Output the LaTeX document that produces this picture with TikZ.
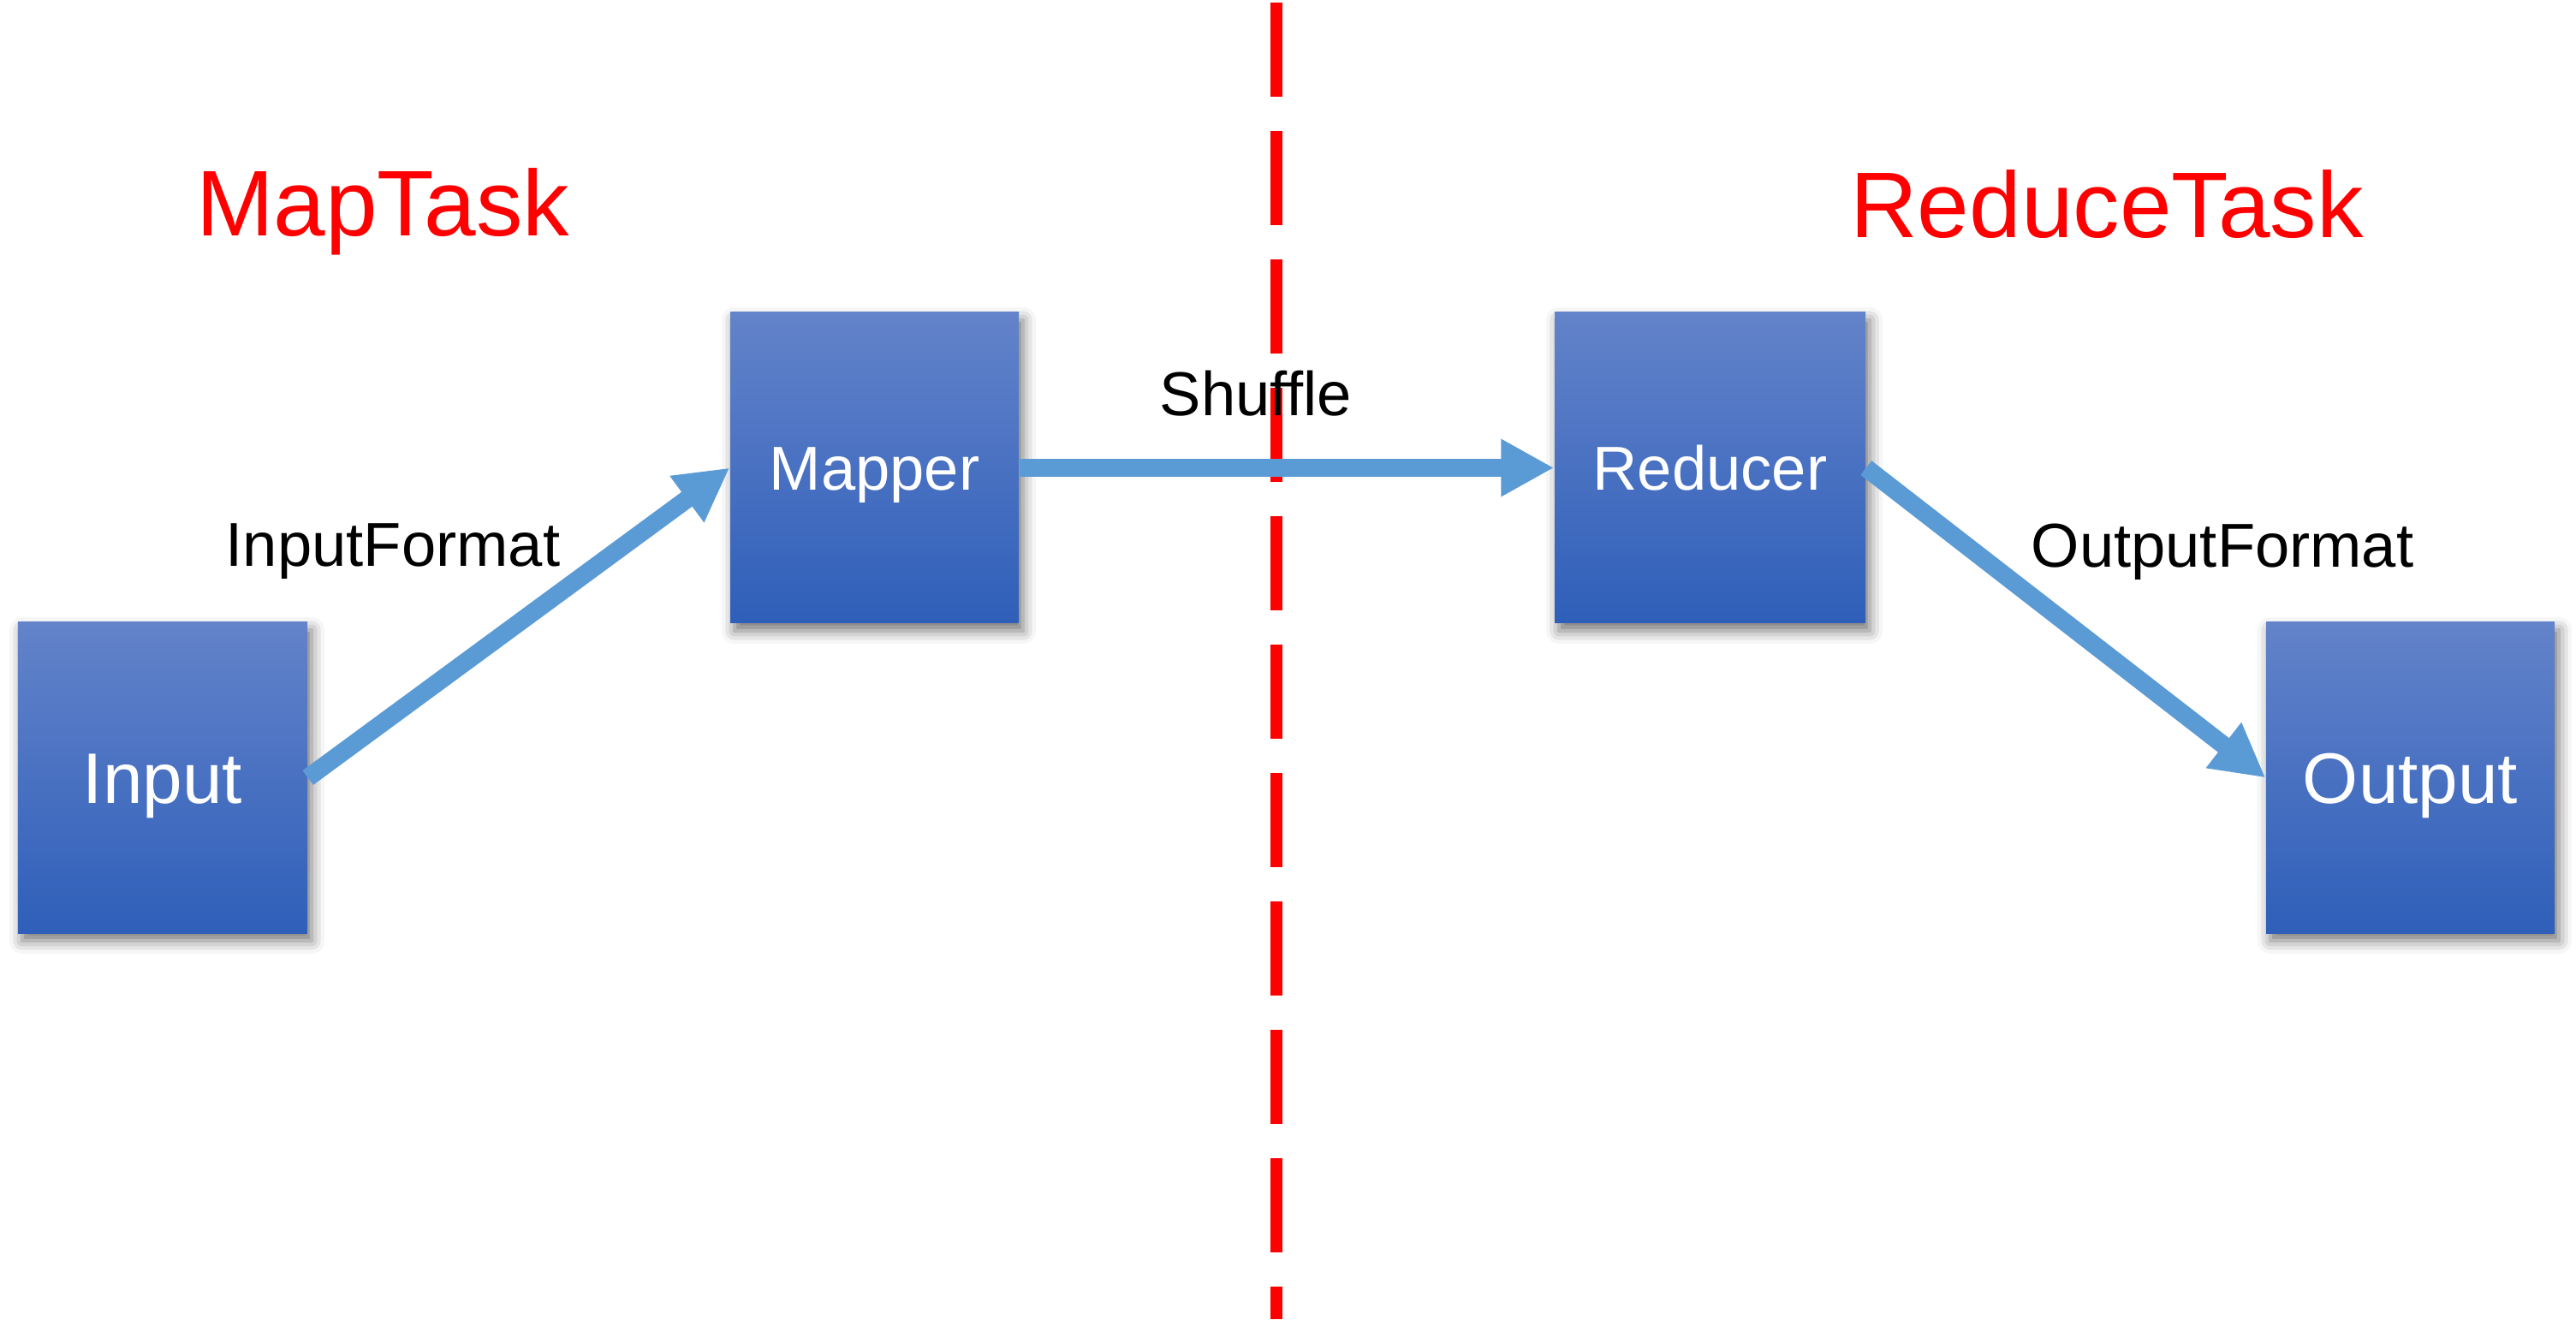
\documentclass[tikz,border=0pt]{standalone}
\usepackage{fontspec}
\setmainfont{Liberation Sans}
\usepackage{tikz}
\usetikzlibrary{arrows.meta,shadows.blur}

\definecolor{boxtop}{RGB}{99,131,202}
\definecolor{boxbot}{RGB}{47,95,185}
\definecolor{flowblue}{RGB}{91,155,213}

\begin{document}
\begin{tikzpicture}
    \tikzstyle{taskbox} = [rectangle, top color=boxtop, bottom color=boxbot, text=white, minimum height=3.63cm, text depth=0cm, inner sep=0pt, blur shadow={shadow xshift=0.05cm, shadow yshift=-0.09cm, shadow blur radius=0.15cm, shadow opacity=55}]
    \tikzstyle{flow} = [flowblue, line width=0.21cm, -{Triangle[length=0.62cm, width=0.63cm]}]
    \tikzstyle{flowlabel} = [anchor=base, inner sep=0pt, font=\fontsize{20.6}{24}\selectfont]
    \tikzstyle{tasklabel} = [anchor=base, inner sep=0pt, red, font=\fontsize{31}{36}\selectfont]
    \useasboundingbox (0,0) rectangle (30.09,15.41);
    % split between the two tasks
    \draw[red, line width=0.14cm, dash pattern=on 1.1cm off 0.4cm] (14.91,15.38) -- (14.91,0);
    \node[tasklabel] (maptask) at (4.47,12.65) {MapTask};
    \node[tasklabel] (reducetask) at (24.61,12.63) {ReduceTask};
    \foreach \name/\txt/\x/\y/\w/\s in {input/Input/1.90/6.325/3.38/23.8, mapper/Mapper/10.215/9.945/3.37/20.6, reducer/Reducer/19.975/9.945/3.63/20.6, output/Output/28.155/6.325/3.37/23.8} {
        \node[taskbox, minimum width=\w cm, font=\fontsize{\s}{28}\selectfont, text height=0.716*\s pt] (\name) at (\x,\y) {\txt};
    }
    \node[flowlabel] (inputformat) at (4.59,8.79) {InputFormat};
    \node[flowlabel] (shuffle) at (14.67,10.55) {Shuffle};
    \node[flowlabel] (outputformat) at (25.96,8.78) {OutputFormat};
    \draw[flow] (input.east) -- (mapper.west);
    \draw[flow] (mapper.east) -- (reducer.west);
    \draw[flow] (reducer.east) -- (output.west);
\end{tikzpicture}
\end{document}
